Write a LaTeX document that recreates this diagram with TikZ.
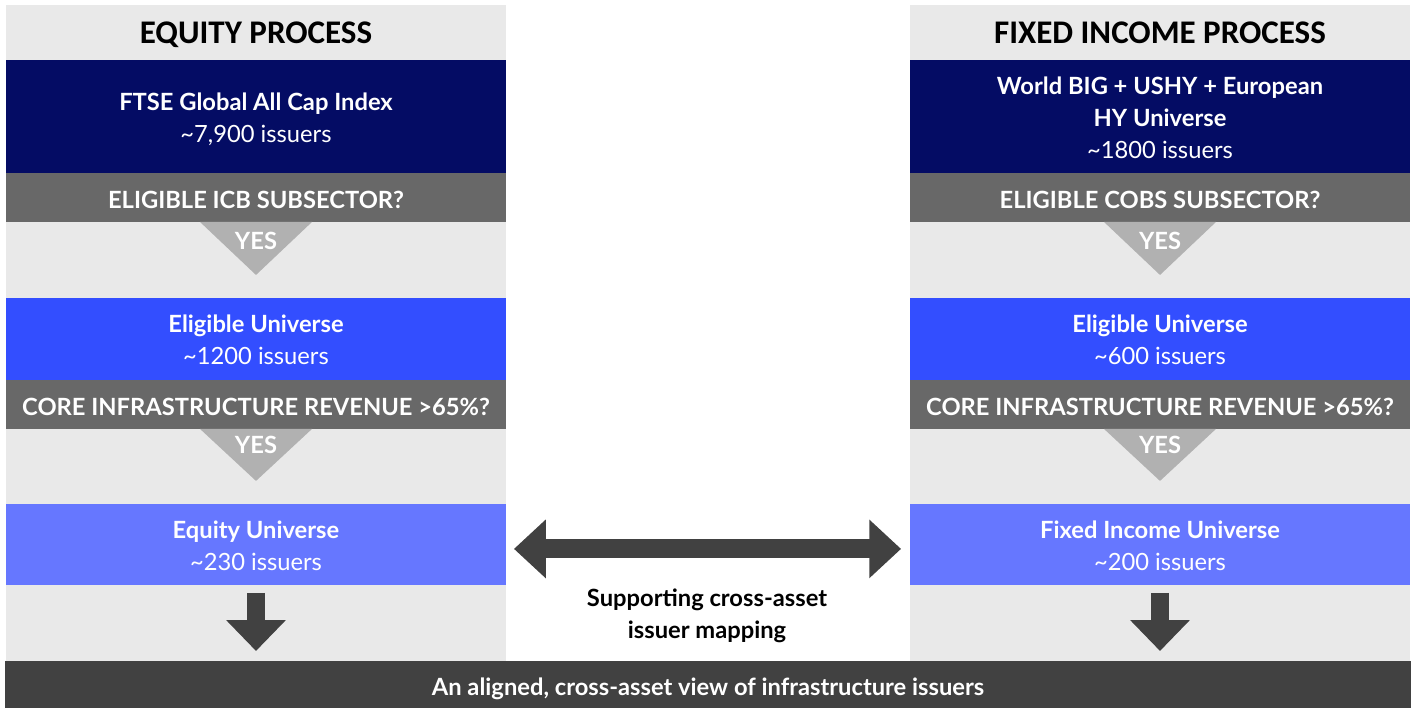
\documentclass[tikz,border=0pt]{standalone}
\usepackage{fontspec}
\setmainfont{Lato}
\newfontfamily\headfont{Carlito}
\usetikzlibrary{positioning, arrows.meta, calc}

\definecolor{PanelGrey}{HTML}{E9E9E9}
\definecolor{Navy}{RGB}{4,12,100}
\definecolor{AskGrey}{HTML}{686868}
\definecolor{YesGrey}{HTML}{B1B1B1}
\definecolor{Royal}{RGB}{51,78,255}
\definecolor{Periwinkle}{RGB}{102,119,255}
\definecolor{Charcoal}{HTML}{414141}

\begin{document}
\begin{tikzpicture}[x=0.02cm, y=0.02cm,
    stage/.style={minimum width=10cm, inner sep=0pt, outer sep=0pt, align=center,
        text=white, font=\fontsize{13.5}{18.14}\selectfont},
    two lines/.style={text height=29.5pt, text depth=0pt},
    three lines/.style={text height=47.7pt, text depth=0pt},
    one line/.style={text height=12.5pt, text depth=0pt},
    title/.style={stage, minimum height=1.1cm, text=black, text height=12.7pt, text depth=0pt,
        font=\headfont\bfseries\fontsize{18.8}{20}\selectfont},
    ask/.style={stage, one line, fill=AskGrey, minimum height=0.98cm,
        font=\bfseries\fontsize{13.5}{18.14}\selectfont},
    yes/.style={inner sep=0pt, text=white, font=\bfseries\fontsize{13.5}{18.14}\selectfont},
    thick arrow/.style={draw=Charcoal, line width=10.2pt,
        -{Triangle[width=32.9pt, length=17.6pt]}, shorten <=0.16cm, shorten >=0.2cm}]

    % canvas
    \fill[white] (0,0) rectangle (1416,708);

    % grey panels
    \fill[PanelGrey] (6,47) rectangle (506,703);
    \fill[PanelGrey] (910,47) rectangle (1410,703);

    % equity column
    \node[title] (eqhead) at (256,675.5) {EQUITY PROCESS};
    \node[stage, two lines, fill=Navy, minimum height=2.26cm, below=0pt of eqhead] (eqindex)
        {\textbf{FTSE Global All Cap Index}\\\textasciitilde 7,900 issuers};
    \node[ask, below=0pt of eqindex] (eqask1) {ELIGIBLE ICB SUBSECTOR?};
    \node[stage, two lines, fill=Royal, minimum height=1.64cm, below=1.52cm of eqask1] (eqelig)
        {\textbf{Eligible Universe}\\\textasciitilde 1200 issuers};
    \node[ask, below=0pt of eqelig] (eqask2) {CORE INFRASTRUCTURE REVENUE >65\%?};
    \node[stage, two lines, fill=Periwinkle, minimum height=1.62cm, below=1.5cm of eqask2] (equniv)
        {\textbf{Equity Universe}\\\textasciitilde 230 issuers};

    % fixed income column
    \node[title] (fihead) at (1160,675.5) {FIXED INCOME PROCESS};
    \node[stage, three lines, fill=Navy, minimum height=2.26cm, below=0pt of fihead] (fiindex)
        {\textbf{World BIG + USHY + European}\\\textbf{HY Universe}\\\textasciitilde 1800 issuers};
    \node[ask, below=0pt of fiindex] (fiask1) {ELIGIBLE COBS SUBSECTOR?};
    \node[stage, two lines, fill=Royal, minimum height=1.64cm, below=1.52cm of fiask1] (fielig)
        {\textbf{Eligible Universe}\\\textasciitilde 600 issuers};
    \node[ask, below=0pt of fielig] (fiask2) {CORE INFRASTRUCTURE REVENUE >65\%?};
    \node[stage, two lines, fill=Periwinkle, minimum height=1.62cm, below=1.5cm of fiask2] (fiuniv)
        {\textbf{Fixed Income Universe}\\\textasciitilde 200 issuers};

    % yes wedges
    \fill[YesGrey] (eqask1.south) ++(-56,0) -- ++(112,0) -- ++(-56,-53) -- cycle;
    \node[yes] (eqyes1) at ([yshift=-0.38cm]eqask1.south) {YES};
    \fill[YesGrey] (eqask2.south) ++(-56,0) -- ++(112,0) -- ++(-56,-52) -- cycle;
    \node[yes] (eqyes2) at ([yshift=-0.32cm]eqask2.south) {YES};
    \fill[YesGrey] (fiask1.south) ++(-56,0) -- ++(112,0) -- ++(-56,-53) -- cycle;
    \node[yes] (fiyes1) at ([yshift=-0.38cm]fiask1.south) {YES};
    \fill[YesGrey] (fiask2.south) ++(-56,0) -- ++(112,0) -- ++(-56,-52) -- cycle;
    \node[yes] (fiyes2) at ([yshift=-0.32cm]fiask2.south) {YES};

    % bottom bar
    \node[stage, one line, fill=Charcoal, minimum width=28.12cm, minimum height=0.94cm,
        font=\bfseries\fontsize{13.5}{18.14}\selectfont] (aligned) at (708,23.5)
        {An aligned, cross-asset view of infrastructure issuers};

    % arrows
    \draw[thick arrow] (equniv.south) -- (equniv.south |- aligned.north);
    \draw[thick arrow] (fiuniv.south) -- (fiuniv.south |- aligned.north);
    \draw[draw=Charcoal, line width=10.8pt,
        {Triangle[width=32.3pt, length=18.1pt]}-{Triangle[width=32.3pt, length=18.1pt]},
        shorten <=0.16cm, shorten >=0.18cm]
        ([yshift=-0.09cm]equniv.east) -- ([yshift=-0.09cm]fiuniv.west);

    \node[align=center, inner sep=0pt, two lines, font=\bfseries\fontsize{13.5}{18.14}\selectfont]
        (mapping) at (707,95.5) {Supporting cross-asset\\issuer mapping};

\end{tikzpicture}
\end{document}
